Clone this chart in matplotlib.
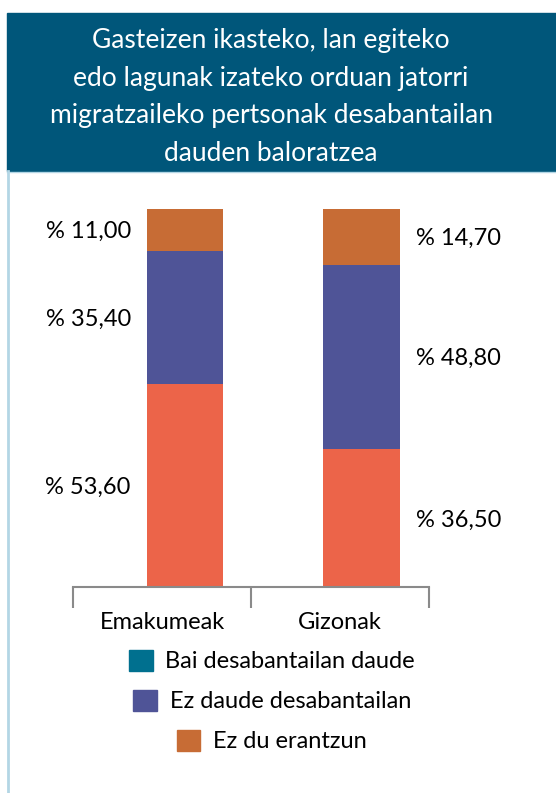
import matplotlib
matplotlib.use("Agg")
import matplotlib.pyplot as plt
from matplotlib.patches import Rectangle, Patch

plt.rcParams['font.family'] = ['Lato', 'DejaVu Sans']

# data
categories = ['Emakumeak', 'Gizonak']
bai = [53.6, 36.5]        # Bai desabantailan daude
ez = [35.4, 48.8]         # Ez daude desabantailan
ez_erantzun = [11.0, 14.7]  # Ez du erantzun
series_labels = ['Bai desabantailan daude', 'Ez daude desabantailan', 'Ez du erantzun']
title = ('Gasteizen ikasteko, lan egiteko\n'
         'edo lagunak izateko orduan jatorri\n'
         'migratzaileko pertsonak desabantailan\n'
         'dauden baloratzea')

bar_colors = ['#ec6449', '#4f5497', '#c76c35']
legend_colors = ['#00708f', '#4f5497', '#c76c35']

W, H = 556, 793
fig = plt.figure(figsize=(W / 100, H / 100), dpi=100)


def px(x, y, w, h):
    # pixel box (top-left origin) -> figure fraction
    return [x / W, 1 - (y + h) / H, w / W, h / H]


# title banner and the light frame line on the left
fig.patches.append(Rectangle((7 / W, 1 - 171 / H), (W - 7) / W, 158 / H,
                             transform=fig.transFigure, color='#00567a', zorder=0))
fig.add_artist(plt.Line2D([8 / W, 8 / W], [0, 1 - 171 / H], transform=fig.transFigure,
                          color='#b3d6e5', lw=2))
fig.add_artist(plt.Line2D([7 / W, 1], [1 - 171.5 / H, 1 - 171.5 / H], transform=fig.transFigure,
                          color='#b3d6e5', lw=1))
fig.text(271 / W, 1 - 97 / H, title, ha='center', va='center', color='white',
         fontsize=19, linespacing=1.62)

ax = fig.add_axes(px(73, 209, 356, 378))
ax.set_xlim(-0.5, 1.5)
ax.set_ylim(0, 100)

x = [0.13, 1.12]
width = 0.43
bottoms = [0, 0]
for vals, col in zip([bai, ez, ez_erantzun], bar_colors):
    ax.bar(x, vals, width=width, bottom=bottoms, color=col, linewidth=0)
    for i, v in enumerate(vals):
        mid = bottoms[i] + v / 2
        txt = '% ' + f'{v:.2f}'.replace('.', ',')
        if i == 0:
            ax.text(x[i] - width / 2 - 0.09, mid, txt, ha='right', va='center_baseline', fontsize=17)
        else:
            ax.text(x[i] + width / 2 + 0.09, mid, txt, ha='left', va='center_baseline', fontsize=17)
    bottoms = [b + v for b, v in zip(bottoms, vals)]

for s in ['top', 'right', 'left']:
    ax.spines[s].set_visible(False)
ax.spines['bottom'].set_color('#8a8a8a')
ax.spines['bottom'].set_linewidth(1.5)
ax.set_yticks([])
ax.set_xticks([-0.5, 0.5, 1.5])
ax.set_xticklabels([])
ax.tick_params(axis='x', which='major', length=15, width=1.5, color='#8a8a8a')
ax.set_xticks([0, 1], minor=True)
ax.set_xticklabels(categories, minor=True, fontsize=17)
ax.tick_params(axis='x', which='minor', length=0, pad=18)

# one centred legend per row, like the reference
for k, (lab, col) in enumerate(zip(series_labels, legend_colors)):
    fig.legend(handles=[Patch(color=col, label=lab)], loc='center',
               bbox_to_anchor=(272 / W, 1 - (661 + 40 * k) / H), frameon=False,
               fontsize=17, handlelength=1.0, handleheight=1.0, handletextpad=0.55,
               borderpad=0, borderaxespad=0)

fig.savefig('out.png', dpi=100)
